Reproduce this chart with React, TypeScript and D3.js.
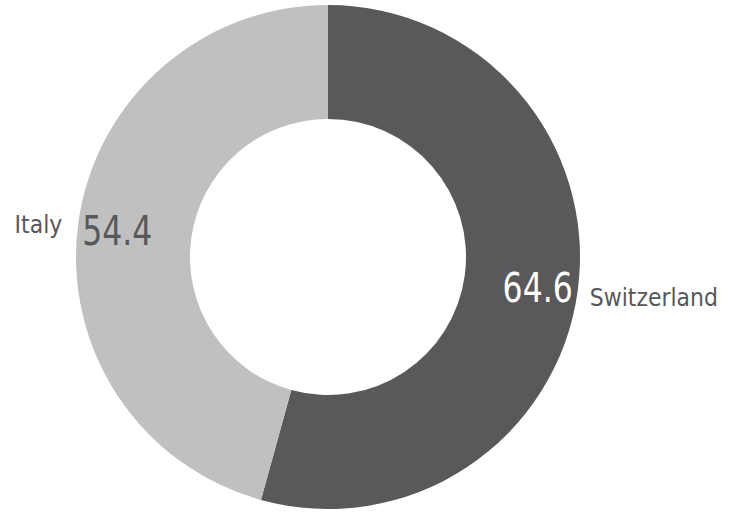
import React from "react";
import * as d3 from "d3";

const categories = ["Switzerland", "Italy"];
const values = [64.6, 54.4];
const colors = ["#5a585b", "#c0c0c0"];

export default function App() {
  const W = 731, H = 512;
  const cx = 328, cy = 257, R = 252, r = 138;
  const pie = d3.pie<number>().sort(null).value((d) => d)(values);
  const arc = d3.arc<d3.PieArcDatum<number>>().innerRadius(r).outerRadius(R);
  const font = "'DejaVu Sans', Verdana, sans-serif";
  return (
    <svg width={W} height={H} style={{ position: "absolute", left: 0, top: 0 }}>
      <g transform={`translate(${cx},${cy})`}>
        {pie.map((p, i) => (
          <path key={i} d={arc(p) || ""} fill={colors[i]} />
        ))}
        {pie.map((p, i) => {
          const a = (p.startAngle + p.endAngle) / 2;
          const x = R * Math.sin(a);
          const y = -R * Math.cos(a);
          const right = x > 0;
          const nx = right ? x - 5 : x + 4;
          const ny = right ? y + 11 : y + 22;
          const lx = right ? x + 12 : x - 16;
          const ly = right ? y + 15 : y + 10;
          return (
            <g key={"l" + i}>
              <text
                transform={`translate(${nx},${ny}) scale(1,1.27)`}
                textAnchor={right ? "end" : "start"}
                fontFamily={font}
                fontSize={31.5}
                fill={right ? "#ffffff" : "#58585a"}
              >
                {values[i]}
              </text>
              <text
                transform={`translate(${lx},${ly}) scale(1,1.15)`}
                textAnchor={right ? "start" : "end"}
                fontFamily={font}
                fontSize={22}
                fill="#58585a"
              >
                {categories[i]}
              </text>
            </g>
          );
        })}
      </g>
    </svg>
  );
}
